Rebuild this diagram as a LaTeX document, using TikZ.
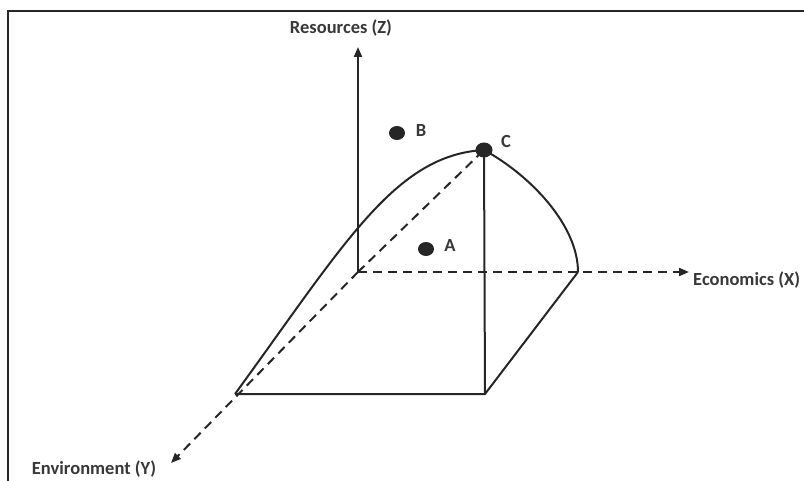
\documentclass[tikz,border=0pt]{standalone}
\usepackage{fontspec}
\setmainfont{Carlito}
\usepackage{tikz}
\usetikzlibrary{arrows.meta, shapes.geometric}

\begin{document}
\begin{tikzpicture}[
  x=1pt, y=-1pt,
  ink/.style={draw=black!85, line width=2pt},
  axis/.style={ink, dash pattern=on 9pt off 6pt, -{Triangle[length=10pt, width=8pt]}},
  hidden/.style={ink, dash pattern=on 9pt off 6pt},
  dot/.style={ellipse, fill=black!85, inner sep=0pt,
              minimum width=16pt, minimum height=14pt},
  lbl/.style={font=\bfseries\fontsize{18.5}{21}\selectfont, text=black!78,
              inner sep=1pt},
]
\useasboundingbox (0,0) rectangle (804,481);

% frame
\draw[black!85, line width=1.4pt] (8,481) -- (8,11) -- (804,11);

% corners of the solid
\coordinate (orig) at (358,272);
\coordinate (xpt)  at (578,272);
\coordinate (ypt)  at (235,394);
\coordinate (base) at (485,394);
\coordinate (zend) at (358,47);
\coordinate (xend) at (689,272);
\coordinate (yend) at (171,463);

% axes
\draw[ink, -{Triangle[length=10pt, width=8pt]}] (orig) -- (zend);
\draw[axis] (orig) -- (xend);
\draw[axis] (orig) -- (yend);

\node[lbl] at (341,28)  (zlbl) {Resources (Z)};
\node[lbl, anchor=west] at (692,280) (xlbl) {Economics (X)};
\node[lbl] at (94,469)  (ylbl) {Environment (Y)};

% points
\node[dot] at (397,133) (ptb) {};
\node[dot] at (426,249) (pta) {};
\node[dot, minimum width=17pt, minimum height=15pt] at (484,150) (ptc) {};

\node[lbl] at (421,131) (lblb) {B};
\node[lbl] at (450,246) (lbla) {A};
\node[lbl] at (506,141) (lblc) {C};

% solid
\draw[ink] (ypt) -- (base) -- (xpt);
\draw[ink] (base) -- (ptc.center);
\draw[hidden] (orig) -- (ptc.center);
\draw[ink] (ypt) .. controls (345,243) and (395,155) .. (ptc.center);
\draw[ink] (ptc.center) .. controls (530,175) and (578,225) .. (xpt);
\end{tikzpicture}
\end{document}
